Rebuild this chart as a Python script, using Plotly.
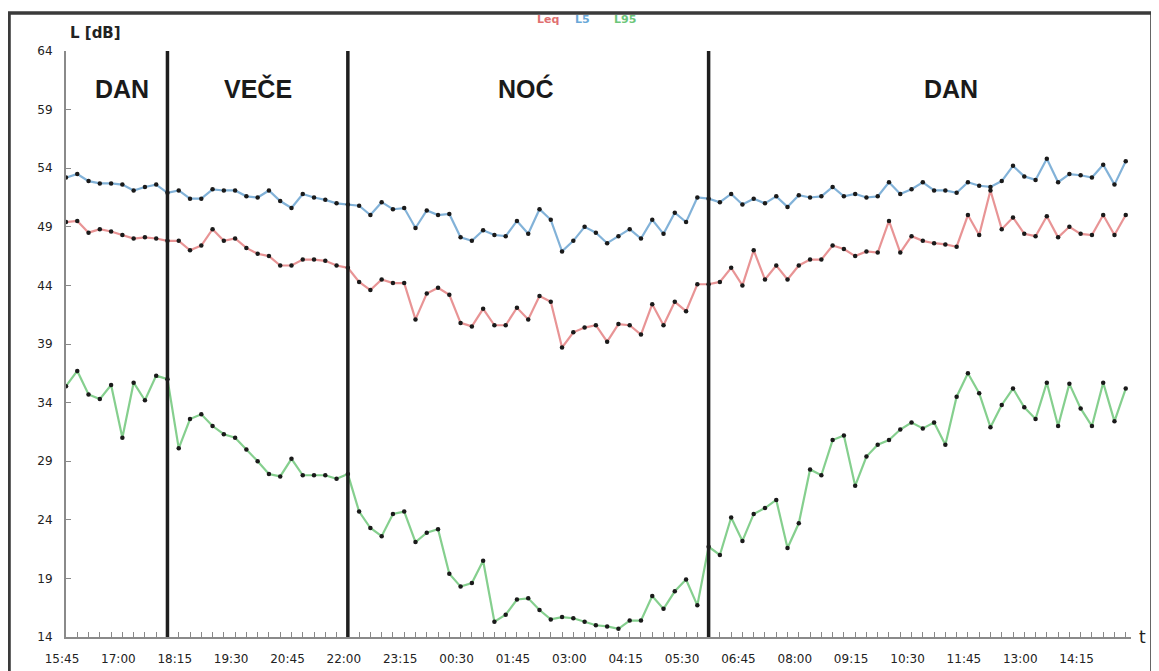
import pandas as pd
import plotly.graph_objects as go

# ---- data (15-minute values, 15:45 -> 15:15 next day) ----
start_time = "2021-06-01 15:45"
n_points = 95

L5 = [53.2, 53.5, 52.9, 52.7, 52.7, 52.6, 52.1, 52.4, 52.6, 51.9,
      52.1, 51.4, 51.4, 52.2, 52.1, 52.1, 51.6, 51.5, 52.1, 51.2,
      50.6, 51.8, 51.5, 51.3, 51.0, 50.9, 50.8, 50.0, 51.1, 50.5,
      50.6, 48.9, 50.4, 50.0, 50.1, 48.1, 47.8, 48.7, 48.3, 48.2,
      49.5, 48.4, 50.5, 49.6, 46.9, 47.8, 49.0, 48.5, 47.6, 48.2,
      48.8, 48.0, 49.6, 48.4, 50.2, 49.4, 51.5, 51.4, 51.1, 51.8,
      50.9, 51.4, 51.0, 51.6, 50.7, 51.7, 51.5, 51.6, 52.4, 51.6,
      51.8, 51.5, 51.6, 52.8, 51.8, 52.2, 52.8, 52.1, 52.1, 51.9,
      52.8, 52.5, 52.4, 52.9, 54.2, 53.3, 53.0, 54.8, 52.8, 53.5,
      53.4, 53.2, 54.3, 52.6, 54.6]

Leq = [49.4, 49.5, 48.5, 48.8, 48.6, 48.3, 48.0, 48.1, 48.0, 47.8,
       47.8, 47.0, 47.4, 48.8, 47.8, 48.0, 47.2, 46.7, 46.5, 45.7,
       45.7, 46.2, 46.2, 46.1, 45.7, 45.5, 44.3, 43.6, 44.5, 44.2,
       44.2, 41.1, 43.3, 43.8, 43.2, 40.8, 40.5, 42.0, 40.6, 40.6,
       42.1, 41.1, 43.1, 42.6, 38.7, 40.0, 40.4, 40.6, 39.2, 40.7,
       40.6, 39.8, 42.4, 40.6, 42.6, 41.8, 44.1, 44.1, 44.3, 45.5,
       44.0, 47.0, 44.5, 45.7, 44.5, 45.7, 46.2, 46.2, 47.4, 47.1,
       46.5, 46.9, 46.8, 49.5, 46.8, 48.2, 47.8, 47.6, 47.5, 47.3,
       50.0, 48.3, 52.1, 48.8, 49.8, 48.4, 48.2, 49.9, 48.1, 49.0,
       48.4, 48.3, 50.0, 48.3, 50.0]

L95 = [35.4, 36.7, 34.7, 34.3, 35.5, 31.0, 35.7, 34.2, 36.3, 36.0,
       30.1, 32.6, 33.0, 32.0, 31.3, 31.0, 30.0, 29.0, 27.9, 27.7,
       29.2, 27.8, 27.8, 27.8, 27.5, 27.9, 24.7, 23.3, 22.6, 24.5,
       24.7, 22.1, 22.9, 23.2, 19.4, 18.3, 18.6, 20.5, 15.3, 15.9,
       17.2, 17.3, 16.3, 15.5, 15.7, 15.6, 15.3, 15.0, 14.9, 14.7,
       15.4, 15.4, 17.5, 16.4, 17.9, 18.9, 16.7, 21.7, 21.0, 24.2,
       22.2, 24.5, 25.0, 25.7, 21.6, 23.7, 28.3, 27.8, 30.8, 31.2,
       26.9, 29.4, 30.4, 30.8, 31.7, 32.3, 31.8, 32.3, 30.4, 34.5,
       36.5, 34.8, 31.9, 33.8, 35.2, 33.6, 32.6, 35.7, 32.0, 35.6,
       33.5, 32.0, 35.7, 32.4, 35.2]

y_ticks = [14, 19, 24, 29, 34, 39, 44, 49, 54, 59, 64]
period_bounds = ["2021-06-01 18:00", "2021-06-01 22:00", "2021-06-02 06:00"]
period_names = ["DAN", "VEČE", "NOĆ", "DAN"]
period_label_x = ["2021-06-01 17:00", "2021-06-01 20:00",
                  "2021-06-02 01:57", "2021-06-02 11:23"]

times = pd.date_range(start_time, periods=n_points, freq="15min")

COL_L5 = "rgba(116,170,212,0.9)"
COL_LEQ = "rgba(230,136,138,0.9)"
COL_L95 = "rgba(120,202,130,0.9)"

fig = go.Figure()
for name, vals, col in [("L95", L95, COL_L95), ("Leq", Leq, COL_LEQ), ("L5", L5, COL_L5)]:
    fig.add_trace(go.Scatter(
        x=times, y=vals, mode="lines+markers", name=name,
        line=dict(color=col, width=2.2),
        marker=dict(color="#1a1a1a", size=4.5),
        showlegend=False))

# period boundary lines
for b in period_bounds:
    fig.add_shape(type="line", xref="x", yref="y", x0=b, x1=b, y0=14, y1=64,
                  line=dict(color="#1e1e1e", width=3.5), layer="above")

# period names
for nm, px in zip(period_names, period_label_x):
    fig.add_annotation(x=px, y=60.8, xref="x", yref="y", text="<b>%s</b>" % nm,
                       showarrow=False, yanchor="middle",
                       font=dict(family="Liberation Sans, Arial", size=25, color="#1a1a1a"))

# outer frame
fig.add_shape(type="rect", xref="paper", yref="paper",
              x0=-0.0535, x1=1.0197, y0=-0.12, y1=1.0648,
              line=dict(color="#3a3a3a", width=3.5), layer="above")

# axis titles
fig.add_annotation(x=0.002, y=1.031, xref="paper", yref="paper", xanchor="left",
                   yanchor="middle", text="<b>L [dB]</b>", showarrow=False,
                   font=dict(family="DejaVu Sans", size=15, color="#222"))
fig.add_annotation(x=1.006, y=0.0, xref="paper", yref="paper", xanchor="left",
                   yanchor="middle", text="t", showarrow=False,
                   font=dict(family="DejaVu Sans", size=17, color="#222"))

# legend texts
for txt, px, col in [("Leq", 0.4526, "#e07070"), ("L5", 0.4854, "#6aa8d8"), ("L95", 0.5249, "#6cc67a")]:
    fig.add_annotation(x=px, y=1.054, xref="paper", yref="paper", text="<b>%s</b>" % txt,
                       showarrow=False, yanchor="middle",
                       font=dict(family="DejaVu Sans", size=11, color=col))

# the page places the figure 8 px from the top-left corner
fig.update_layout(
    width=1151, height=663,
    margin=dict(l=58, r=28, t=43, b=34),
    paper_bgcolor="white", plot_bgcolor="white",
    font=dict(family="DejaVu Sans", size=12, color="#222"),
)
fig.update_xaxes(
    type="date", automargin=False,
    range=["2021-06-01 15:45", "2021-06-02 15:22"],
    tick0="2021-06-01 15:45", dtick=75 * 60 * 1000, tickformat="%H:%M",
    ticks="inside", ticklen=5, tickcolor="#888", tickwidth=1,
    minor=dict(dtick=15 * 60 * 1000, tick0="2021-06-01 15:45",
               ticks="inside", ticklen=5, tickcolor="#888", tickwidth=1),
    showline=True, linecolor="#8a8a8a", linewidth=2,
    showgrid=False, zeroline=False,
    ticklabelstandoff=10, ticklabelshift=-4,
    tickfont=dict(family="DejaVu Sans", size=12, color="#222"),
)
fig.update_yaxes(
    range=[14, 64], tickvals=y_ticks, automargin=False,
    ticks="inside", ticklen=5, tickcolor="#888",
    showline=True, linecolor="#8a8a8a", linewidth=2,
    showgrid=False, zeroline=False,
    ticklabelstandoff=9,
    tickfont=dict(family="DejaVu Sans", size=12, color="#222"),
)

fig.write_html("out.html")
